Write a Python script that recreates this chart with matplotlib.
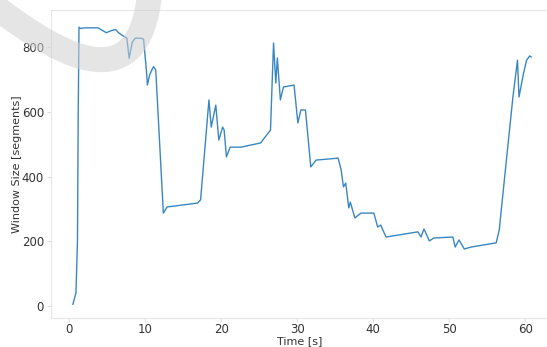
import matplotlib
matplotlib.use("Agg")
import matplotlib.pyplot as plt
from matplotlib.path import Path
from matplotlib.patches import PathPatch

# congestion window trace
time_s = [0.5, 0.9, 1.1, 1.2, 1.3, 1.5, 2.0, 3.8, 4.9, 5.4, 6.1, 6.5, 7.1, 7.6,
          7.9, 8.3, 8.7, 9.4, 9.8, 10.2, 10.3, 10.6, 11.1, 11.4, 12.4, 12.9,
          16.9, 17.3, 18.4, 18.7, 19.3, 19.7, 20.2, 20.4, 20.7, 21.2, 22.6,
          25.2, 26.5, 26.9, 27.2, 27.4, 27.8, 28.2, 29.6, 30.1, 30.5, 31.1,
          31.8, 32.5, 35.4, 35.8, 36.1, 36.4, 36.8, 37.0, 37.6, 38.4, 40.1,
          40.6, 41.0, 41.7, 45.9, 46.3, 46.7, 47.4, 48.0, 50.5, 50.8, 51.3,
          52.0, 52.9, 56.2, 56.6, 57.5, 58.4, 59.0, 59.2, 59.8, 60.2, 60.6,
          60.8]
window = [5, 40, 200, 600, 862, 858, 860, 860, 845, 850, 855, 845, 835, 828,
          766, 815, 828, 828, 825, 720, 683, 715, 740, 730, 287, 306,
          318, 328, 637, 553, 621, 513, 553, 544, 461, 491, 491,
          504, 544, 813, 689, 767, 637, 677, 683, 566, 606, 606,
          430, 451, 457, 420, 368, 380, 303, 321, 272, 287, 287,
          244, 250, 213, 229, 213, 238, 201, 210, 213, 182, 204,
          176, 182, 195, 235, 442, 646, 760, 646, 720, 760, 773,
          770]

x_ticks = [0, 10, 20, 30, 40, 50, 60]
y_ticks = [0, 200, 400, 600, 800]

fig = plt.figure(figsize=(5.47, 3.47), dpi=100)
ax = fig.add_axes([0.093, 0.084, 0.91, 0.887])

ax.plot(time_s, window, color='#3a87c0', linewidth=1.0)

ax.set_xlim(-2.4, 63.1)
ax.set_ylim(-37, 915)
ax.set_xticks(x_ticks)
ax.set_yticks(y_ticks)

for side in ['top', 'right', 'bottom', 'left']:
    ax.spines[side].set_color('#e6e6e6')
    ax.spines[side].set_linewidth(0.8)
ax.tick_params(colors='#e0e0e0', labelcolor='#333333', labelsize=8.5,
               length=3, pad=2)
ax.tick_params(axis='x', pad=1)

ax.set_xlabel('Time [s]', fontsize=8, color='#333333', labelpad=0)
ax.set_ylabel('Window Size [segments]', fontsize=8, color='#333333', labelpad=0)

# grey watermark band in the top left corner (pixel coords from the top)
W, H = 547.0, 347.0
pts = [(-20, -5), (50, 50), (140, 110), (150, -10)]
verts = [(px / W, 1 - py / H) for px, py in pts]
band = Path(verts, [Path.MOVETO, Path.CURVE4, Path.CURVE4, Path.CURVE4])
fig.patches.append(PathPatch(band, transform=fig.transFigure, fill=False,
                             edgecolor='#d0d0d0', alpha=0.55, linewidth=18,
                             capstyle='butt', zorder=10))

plt.savefig('out.png', dpi=100)
